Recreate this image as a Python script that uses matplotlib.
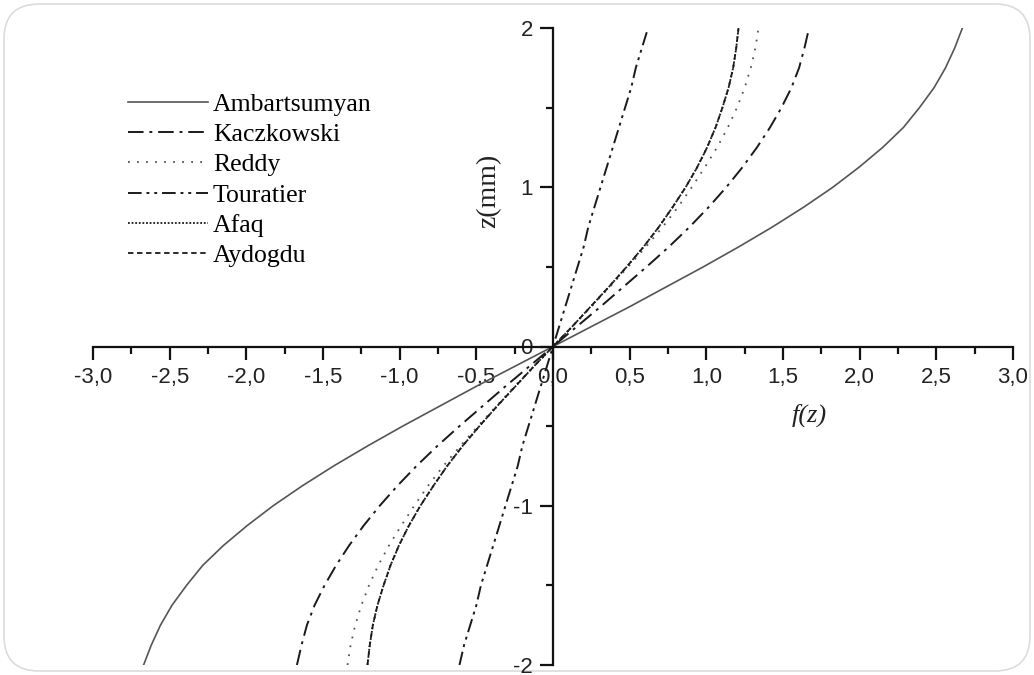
import matplotlib
matplotlib.use("Agg")
import matplotlib.pyplot as plt
from matplotlib.ticker import MultipleLocator, FuncFormatter
from matplotlib.patches import FancyBboxPatch

# thickness coordinate z (mm) and shape function values f(z)
z = [-2.0, -1.875, -1.75, -1.625, -1.5, -1.375, -1.25, -1.125, -1.0,
     -0.875, -0.75, -0.625, -0.5, -0.375, -0.25, -0.125, 0.0,
     0.125, 0.25, 0.375, 0.5, 0.625, 0.75, 0.875, 1.0,
     1.125, 1.25, 1.375, 1.5, 1.625, 1.75, 1.875, 2.0]

ambartsumyan = [-2.67, -2.62, -2.56, -2.485, -2.39, -2.285, -2.15, -1.995, -1.825,
                -1.635, -1.43, -1.21, -0.98, -0.74, -0.50, -0.25, 0.0,
                0.25, 0.50, 0.74, 0.98, 1.21, 1.43, 1.635, 1.825,
                1.995, 2.15, 2.285, 2.39, 2.485, 2.56, 2.62, 2.67]
kaczkowski = [-1.67, -1.64, -1.605, -1.555, -1.49, -1.415, -1.33, -1.235, -1.13,
              -1.015, -0.89, -0.755, -0.61, -0.46, -0.31, -0.155, 0.0,
              0.155, 0.31, 0.46, 0.61, 0.755, 0.89, 1.015, 1.13,
              1.235, 1.33, 1.415, 1.49, 1.555, 1.605, 1.64, 1.67]
reddy = [-1.34, -1.32, -1.29, -1.25, -1.20, -1.14, -1.07, -0.99, -0.905,
         -0.815, -0.715, -0.605, -0.49, -0.37, -0.25, -0.125, 0.0,
         0.125, 0.25, 0.37, 0.49, 0.605, 0.715, 0.815, 0.905,
         0.99, 1.07, 1.14, 1.20, 1.25, 1.29, 1.32, 1.34]
touratier = [-0.61, -0.58, -0.54, -0.50, -0.47, -0.43, -0.39, -0.35, -0.31,
             -0.27, -0.23, -0.20, -0.16, -0.12, -0.08, -0.04, 0.0,
             0.04, 0.08, 0.12, 0.16, 0.20, 0.23, 0.27, 0.31,
             0.35, 0.39, 0.43, 0.47, 0.51, 0.54, 0.58, 0.62]
afaq = [-1.21, -1.195, -1.175, -1.145, -1.105, -1.06, -1.005, -0.94, -0.865,
        -0.78, -0.69, -0.59, -0.48, -0.365, -0.245, -0.125, 0.0,
        0.125, 0.245, 0.365, 0.48, 0.59, 0.69, 0.78, 0.865,
        0.94, 1.005, 1.06, 1.105, 1.145, 1.175, 1.195, 1.21]
aydogdu = [-1.21, -1.195, -1.175, -1.145, -1.105, -1.06, -1.005, -0.94, -0.865,
           -0.78, -0.69, -0.59, -0.48, -0.365, -0.245, -0.125, 0.0,
           0.125, 0.245, 0.365, 0.48, 0.59, 0.69, 0.78, 0.865,
           0.94, 1.005, 1.06, 1.105, 1.145, 1.175, 1.195, 1.21]

series = [
    ("Ambartsumyan", ambartsumyan, "-", "#555555", 1.2),
    ("Kaczkowski", kaczkowski, (0, (8, 3, 1.5, 3)), "#1a1a1a", 1.4),
    ("Reddy", reddy, (0, (1, 4)), "#555555", 1.3),
    ("Touratier", touratier, (0, (7, 2.5, 1.5, 2.5, 1.5, 2.5)), "#1a1a1a", 1.4),
    ("Afaq", afaq, (0, (1, 1)), "#1a1a1a", 1.3),
    ("Aydogdu", aydogdu, (0, (3, 2)), "#1a1a1a", 1.3),
]

W, H = 1034, 675
fig = plt.figure(figsize=(W / 100, H / 100), dpi=100)

# soft rounded frame around the whole figure
frame = FancyBboxPatch((0.04, 0.04), W / 100 - 0.08, H / 100 - 0.08,
                       boxstyle="round,pad=0,rounding_size=0.35",
                       transform=fig.dpi_scale_trans, facecolor="white",
                       edgecolor="#dcdcdc", linewidth=1.2, zorder=-10)
fig.patches.append(frame)

ax = fig.add_axes([93 / W, 1 - 665 / H, 920 / W, 637 / H])
ax.set_facecolor("none")

for name, f, ls, col, lw in series:
    ax.plot(f, z, linestyle=ls, color=col, linewidth=lw, label=name)

ax.set_xlim(-3, 3)
ax.set_ylim(-2, 2)

for side in ("top", "right"):
    ax.spines[side].set_visible(False)
ax.spines["left"].set_position(("data", 0))
ax.spines["bottom"].set_position(("data", 0))
for side in ("left", "bottom"):
    ax.spines[side].set_linewidth(1.6)
    ax.spines[side].set_color("#111111")

ax.xaxis.set_major_locator(MultipleLocator(0.5))
ax.xaxis.set_minor_locator(MultipleLocator(0.25))
ax.yaxis.set_major_locator(MultipleLocator(1))
ax.yaxis.set_minor_locator(MultipleLocator(0.5))
ax.xaxis.set_major_formatter(FuncFormatter(lambda v, p: f"{v:.1f}".replace(".", ",").replace("-0,0", "0,0")))
ax.yaxis.set_major_formatter(FuncFormatter(lambda v, p: f"{v:.0f}"))

ax.tick_params(which="major", direction="out", length=9.5, width=1.6,
               color="#111111", labelsize=16, labelcolor="#222222", pad=5)
ax.tick_params(which="minor", direction="out", length=5, width=1.6, color="#111111")
for lab in ax.get_xticklabels() + ax.get_yticklabels():
    lab.set_fontfamily("Liberation Sans")

ax.text(-0.42, 0.98, "z(mm)", rotation=90, ha="center", va="center",
        fontsize=20, family="Liberation Serif", color="#222222")
ax.text(1.67, -0.43, "f(z)", ha="center", va="center", fontsize=19,
        family="Liberation Serif", style="italic", color="#222222")

ax.legend(loc="upper left", bbox_to_anchor=(128 / W, 1 - 93 / H),
          bbox_transform=fig.transFigure, frameon=False, borderpad=0,
          borderaxespad=0, handlelength=3.1, handletextpad=0.2,
          labelspacing=0.28, prop={"family": "Liberation Serif", "size": 18.5})

fig.savefig("out.png", dpi=100)
